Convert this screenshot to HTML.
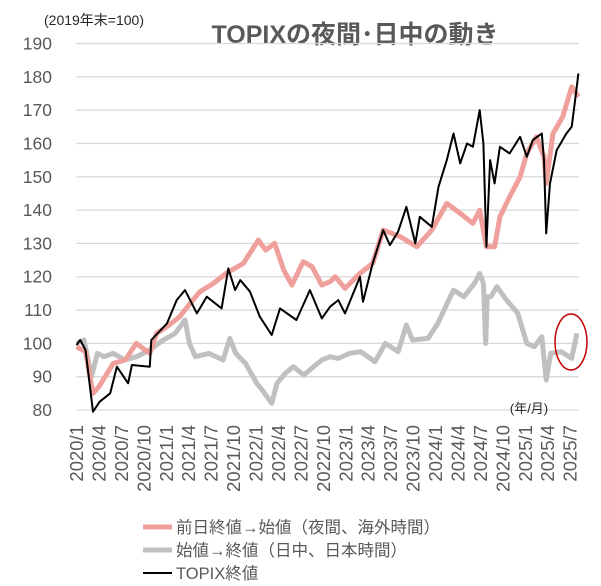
<!DOCTYPE html>
<html><head><meta charset="utf-8">
<style>
body{margin:0;background:#fff;}
svg{display:block;font-family:"Liberation Sans","Noto Sans CJK JP",sans-serif;}
</style></head>
<body>
<svg id="chart" width="601" height="586" viewBox="0 0 601 586" xmlns="http://www.w3.org/2000/svg">
<text x="44" y="25" font-size="14" fill="#262626">(2019年末=100)</text>
<text x="355" y="43" font-size="25" font-weight="bold" fill="#595959" text-anchor="middle">TOPIXの夜間･日中の動き</text>
<g id="grid"></g>
<g id="yticks"></g>
<g id="xticks"></g>
<g id="series"></g>
<text x="529" y="413" font-size="13" fill="#262626" text-anchor="middle">(年/月)</text>
<ellipse cx="571" cy="342" rx="16" ry="28" fill="none" stroke="#c00000" stroke-width="1.5"/>
<g>
<line x1="143" y1="527" x2="172" y2="527" stroke="#f0a09c" stroke-width="5"/>
<text x="176" y="533" font-size="16.5" fill="#595959">前日終値→始値（夜間、海外時間）</text>
<line x1="143" y1="550" x2="172" y2="550" stroke="#c0c0c0" stroke-width="5"/>
<text x="176" y="556" font-size="16.5" fill="#595959">始値→終値（日中、日本時間）</text>
<line x1="143" y1="573" x2="172" y2="573" stroke="#000" stroke-width="2"/>
<text x="176" y="579" font-size="16.5" fill="#595959">TOPIX終値</text>
</g>
</svg>
<script>
const yTicks=[80,90,100,110,120,130,140,150,160,170,180,190];
const xLabels=["2020/1","2020/4","2020/7","2020/10","2021/1","2021/4","2021/7","2021/10","2022/1","2022/4","2022/7","2022/10","2023/1","2023/4","2023/7","2023/10","2024/1","2024/4","2024/7","2024/10","2025/1","2025/4","2025/7"];
const topixT=[0,0.5,1.2,2.2,3.1,4.5,5.4,6.9,7.4,9.8,10,12.1,13.4,14.5,16.1,17.4,19.4,20.3,21.2,21.9,23.2,24.5,26.1,27.2,29.4,31.2,32.8,33.9,35,35.9,37.9,38.3,39.6,41,41.9,43,44.1,45.3,45.9,47.5,48.4,49.5,50.4,51.3,52.2,53,53.9,54.4,54.8,55.3,55.9,56.6,57.9,59.3,60.2,61,62.2,62.5,62.8,63.3,64.2,65.5,66.2,66.6,67.1];
const topixV=[99.5,101,98,79.5,82.5,85,93,88,93.5,93,101,106,113,116,109,114,110.5,122.5,116,119,115.5,108,102.5,110.5,107,116,107.5,111,113,109,120,112.5,124,134,129.5,133.5,141,130,138,135,147,155,163,154,160,159,170,160,129,155,148,159,157,162,156,161,163,155,133,148,158,163,165,172,181];
const nightT=[0,1.2,2.2,3,4.9,6.5,8,9.8,10.7,12.1,13.8,15.2,16.5,18.3,20,22.3,24.3,25.3,26.5,27.7,28.8,30.3,31.5,32.8,33.9,34.6,35.9,37.9,39.6,41,43.3,45.5,47.5,49.5,51.3,53,53.9,54.8,55.9,56.6,57.9,59.3,60.2,61.5,62.5,62.8,63.7,65,66.2,67.1];
const nightV=[99,97.5,85,87,94,95,100,97,103,105,108,112,115.5,118,121,124,131,128,130,122,117.5,124.5,123,117.5,118.5,120,116.5,121,124,134,132,129,134,142,139,136,140,129,129,138,144,150,157,162,156,148,163,168,177,174];
const dayT=[0,1,2,2.8,3.7,4.9,6.5,8,9.8,11.6,13.2,14.5,15.1,15.9,17.7,19.6,20.5,21.3,22.6,24.1,25,26.1,26.8,27.9,29,30.4,31.7,32.8,33.9,35,36.5,38,39.9,41.3,43,44.1,44.9,47,48.3,50.4,51.8,53.2,53.9,54.4,54.7,54.9,55.4,56.2,57.5,59,60.2,61.2,62.2,62.8,63.4,64.8,66.2,66.9];
const dayV=[100,101,90,97,96,97,95,96,98,101,103,107,100,96,97,95,101.5,97,94,88,85.5,82,88,91,93,90.5,93,95,96,95.5,97,97.5,94.5,100,97.5,105.5,101,101.5,106,116,114,118,121,118,100,114,114,117,113,109,100,99,102,89,97,97.5,95.5,103];

const svg=document.getElementById('chart');
const NS='http://www.w3.org/2000/svg';
const X0=76.5, PX=7.48;
const yMin=80,yMax=190,Y0=410,Y1=43.5;
function xs(t){return X0+t*PX;}
function ys(v){return Y0-(v-yMin)/(yMax-yMin)*(Y0-Y1);}
const grid=document.getElementById('grid'),yt=document.getElementById('yticks'),xt=document.getElementById('xticks'),ser=document.getElementById('series');
yTicks.forEach(v=>{
  const l=document.createElementNS(NS,'line');
  
  
  l.setAttribute('x1',X0);l.setAttribute('x2',579);l.setAttribute('y1',ys(v));l.setAttribute('y2',ys(v));
  l.setAttribute('stroke','#d9d9d9');l.setAttribute('stroke-width','1.3');
  grid.appendChild(l);
  const t=document.createElementNS(NS,'text');
  
  
  t.setAttribute('x',52);t.setAttribute('y',ys(v)+6);t.setAttribute('font-size','17.5');
  t.setAttribute('fill','#595959');t.setAttribute('text-anchor','end');
  t.textContent=v;yt.appendChild(t);
});
xLabels.forEach((s,i)=>{
  const x=xs(i*3);
  const t=document.createElementNS(NS,'text');
  
  
  t.setAttribute('transform','translate('+(x+6.5)+',425) rotate(-90)');
  t.setAttribute('font-size','18.5');t.setAttribute('fill','#595959');t.setAttribute('text-anchor','end');
  t.textContent=s;xt.appendChild(t);
});
function line(T,V,color,w,name){
  const p=document.createElementNS(NS,'path');
  
  
  p.setAttribute('d',T.map((t,i)=>(i?'L':'M')+xs(t).toFixed(1)+','+ys(V[i]).toFixed(1)).join(''));
  p.setAttribute('fill','none');p.setAttribute('stroke',color);p.setAttribute('stroke-width',w);
  p.setAttribute('stroke-linejoin','round');
  ser.appendChild(p);
}
line(dayT,dayV,'#c0c0c0',5,'intraday-line');
line(nightT,nightV,'#f0a09c',5,'overnight-line');
line(topixT,topixV,'#000',2,'topix-line');
</script>
</body></html>
